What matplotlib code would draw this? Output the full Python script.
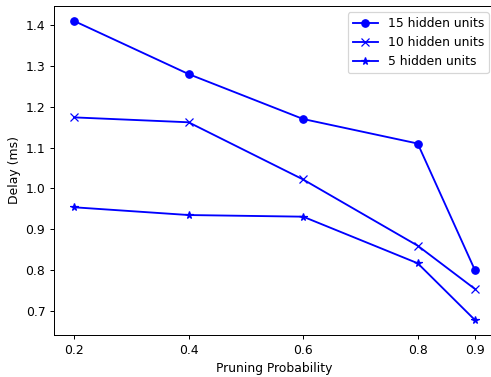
import matplotlib
matplotlib.use('Agg')
import matplotlib.pyplot as plt

# pruning probability vs delay for three network sizes
prob = [0.2, 0.4, 0.6, 0.8, 0.9]
delay_15 = [1.41, 1.28, 1.17, 1.11, 0.80]
delay_10 = [1.174, 1.162, 1.022, 0.860, 0.754]
delay_5 = [0.954, 0.935, 0.931, 0.817, 0.678]

DPI = 89
fig = plt.figure(figsize=(491/DPI, 377/DPI), dpi=DPI)
ax = fig.add_axes([54/491, 42/377, 441/491, 329/377])

ax.plot(prob, delay_15, 'b-o', label='15 hidden units')
ax.plot(prob, delay_10, 'b-x', label='10 hidden units')
ax.plot(prob, delay_5, 'b-*', label='5 hidden units')

ax.set_xticks(prob)
ax.set_xlabel('Pruning Probability')
ax.set_ylabel('Delay (ms)')
ax.legend(loc='upper right')

fig.savefig('out.png', dpi=DPI)
